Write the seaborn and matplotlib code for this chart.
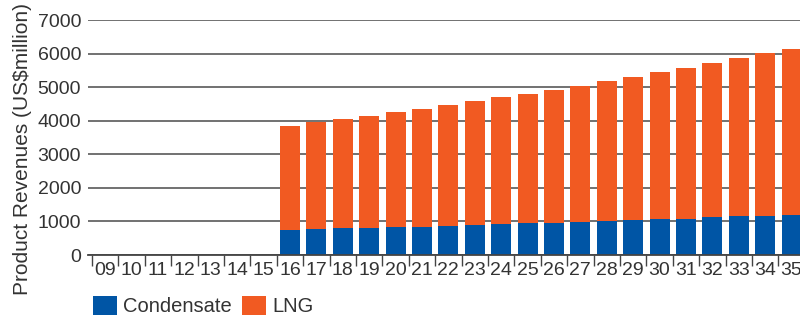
import numpy as np
import pandas as pd
import matplotlib
matplotlib.use("Agg")
import matplotlib.pyplot as plt
import seaborn as sns
from matplotlib.ticker import FixedLocator

# data
years = ["09", "10", "11", "12", "13", "14", "15", "16", "17", "18", "19",
         "20", "21", "22", "23", "24", "25", "26", "27", "28", "29", "30",
         "31", "32", "33", "34", "35"]
total = [0, 0, 0, 0, 0, 0, 0,
         3850, 3970, 4060, 4150, 4270, 4360, 4480, 4600, 4715, 4805,
         4925, 5045, 5195, 5315, 5465, 5580, 5730, 5880, 6020, 6150]
condensate = [0, 0, 0, 0, 0, 0, 0,
              745, 775, 805, 805, 835, 835, 865, 895, 925, 955,
              955, 985, 1015, 1045, 1075, 1075, 1135, 1165, 1165, 1195]
lng = [t - c for t, c in zip(total, condensate)]

blue = "#0055a5"
orange = "#f15a22"
txt = "#333333"

df = pd.DataFrame({"year": years, "total": total, "condensate": condensate, "lng": lng})

sns.set_style("white")
plt.rcParams["font.family"] = ["Liberation Sans", "DejaVu Sans"]

fig = plt.figure(figsize=(8, 3.19), dpi=100)
ax = fig.add_axes([0.11, 0.2006, 0.89, 0.7366])

# stacked bars: total in orange, condensate on top of it in blue
sns.barplot(data=df, x="year", y="total", order=years, color=orange,
            width=0.76, saturation=1, linewidth=0, ax=ax, label="LNG")
sns.barplot(data=df, x="year", y="condensate", order=years, color=blue,
            width=0.76, saturation=1, linewidth=0, ax=ax, label="Condensate")

ax.set_ylim(0, 7000)
ax.set_xlim(-0.65, 26.32)
ax.set_yticks(range(0, 7001, 1000))
ax.yaxis.grid(True, color="#666666", linewidth=1.3)
ax.set_axisbelow(True)
for s in ["top", "right", "left"]:
    ax.spines[s].set_visible(False)
ax.spines["bottom"].set_color("#444444")
ax.spines["bottom"].set_linewidth(1.3)

ax.tick_params(axis="y", length=0, pad=5, labelsize=14, labelcolor=txt)
ax.tick_params(axis="x", which="major", length=0, pad=5, labelsize=14, labelcolor=txt)
ax.xaxis.set_minor_locator(FixedLocator(np.arange(-0.5, 27, 1)))
ax.tick_params(axis="x", which="minor", bottom=True, length=8, width=1, color="#444444")

ax.set_xlabel("")
ax.set_ylabel("Product Revenues (US\\$million)", fontsize=15, color=txt)
ax.yaxis.set_label_coords(-0.078, 0.45)

handles, labels = ax.get_legend_handles_labels()
order = [labels.index("Condensate"), labels.index("LNG")]
ax.legend([handles[i] for i in order], [labels[i] for i in order],
          loc="upper left", bbox_to_anchor=(-0.004, -0.14), ncol=2, frameon=False,
          fontsize=14.5, handlelength=1.2, handleheight=1.1, handletextpad=0.3,
          columnspacing=0.5, labelcolor=txt, borderaxespad=0)

fig.savefig("out.png", dpi=100)
